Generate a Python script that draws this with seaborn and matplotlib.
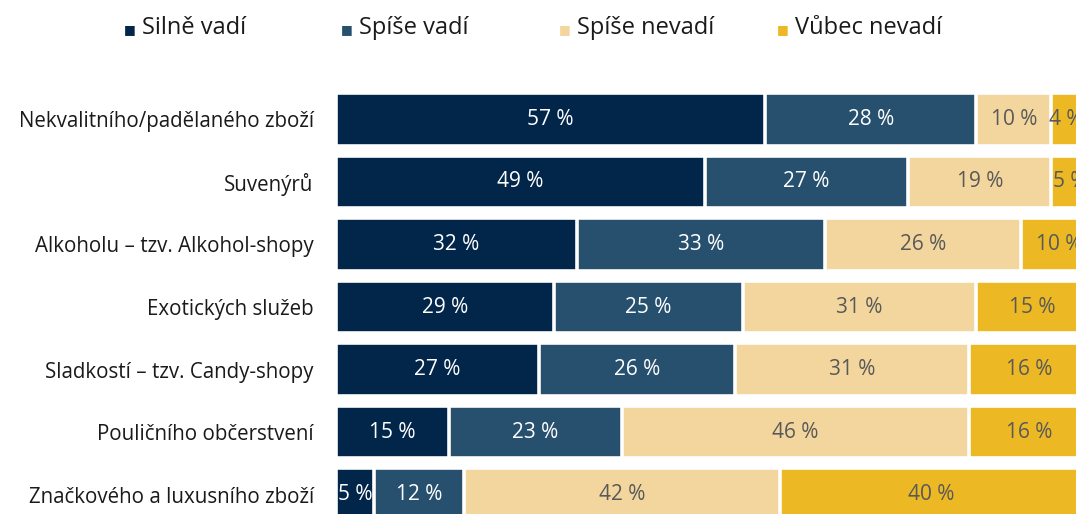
import matplotlib
matplotlib.use("Agg")
import matplotlib.pyplot as plt
import seaborn as sns
import numpy as np
import pandas as pd

categories = ["Nekvalitního/padělaného zboží", "Suvenýrů", "Alkoholu – tzv. Alkohol-shopy",
              "Exotických služeb", "Sladkostí – tzv. Candy-shopy", "Pouličního občerstvení",
              "Značkového a luxusního zboží"]
series = ["Silně vadí", "Spíše vadí", "Spíše nevadí", "Vůbec nevadí"]
silne_vadi = [57, 49, 32, 29, 27, 15, 5]
spise_vadi = [28, 27, 33, 25, 26, 23, 12]
spise_nevadi = [10, 19, 26, 31, 31, 46, 42]
vubec_nevadi = [4, 5, 10, 15, 16, 16, 40]

colors = ["#02264a", "#27506f", "#f3d69e", "#ecb824"]
text_colors = ["white", "white", "#595959", "#595959"]

sns.set_theme(style="white")
plt.rcParams['font.family'] = ['Open Sans', 'DejaVu Sans']

vals = np.array([silne_vadi, spise_vadi, spise_nevadi, vubec_nevadi], dtype=float)
cum = np.cumsum(vals, axis=0)

fig = plt.figure(figsize=(10.76, 5.14), dpi=100)
ax = fig.add_axes([336/1076, -12/514, 753/1076, 438/514])

for i in range(3, -1, -1):
    df = pd.DataFrame({"cat": categories, "val": cum[i]})
    sns.barplot(data=df, x="val", y="cat", orient="h", color=colors[i], width=0.84,
                edgecolor="white", linewidth=2.6, saturation=1, ax=ax, label=series[i])

for i in range(4):
    for j, cat in enumerate(categories):
        start = cum[i][j] - vals[i][j]
        ax.text(start + vals[i][j] / 2, j, f"{int(vals[i][j])} %", ha="center", va="center",
                color=text_colors[i], fontsize=15)

ax.set_xlim(0, 100)
ax.set_xlabel("")
ax.set_ylabel("")
ax.set_xticks([])
ax.tick_params(axis="y", length=0, pad=16, labelsize=14.8, labelcolor="#1a1a1a")
for s in ax.spines.values():
    s.set_visible(False)
if ax.get_legend():
    ax.get_legend().remove()

legend_x = [130, 347, 565, 783]
for k in range(4):
    fig.text(legend_x[k] / 1076, 1 - 30 / 514, "■", color=colors[k], fontsize=9,
             ha="center", va="center", family=["DejaVu Sans"])
    fig.text((legend_x[k] + 12) / 1076, 1 - 28 / 514, series[k], color="#1a1a1a",
             fontsize=17, ha="left", va="center")

fig.savefig("out.png", dpi=100)
